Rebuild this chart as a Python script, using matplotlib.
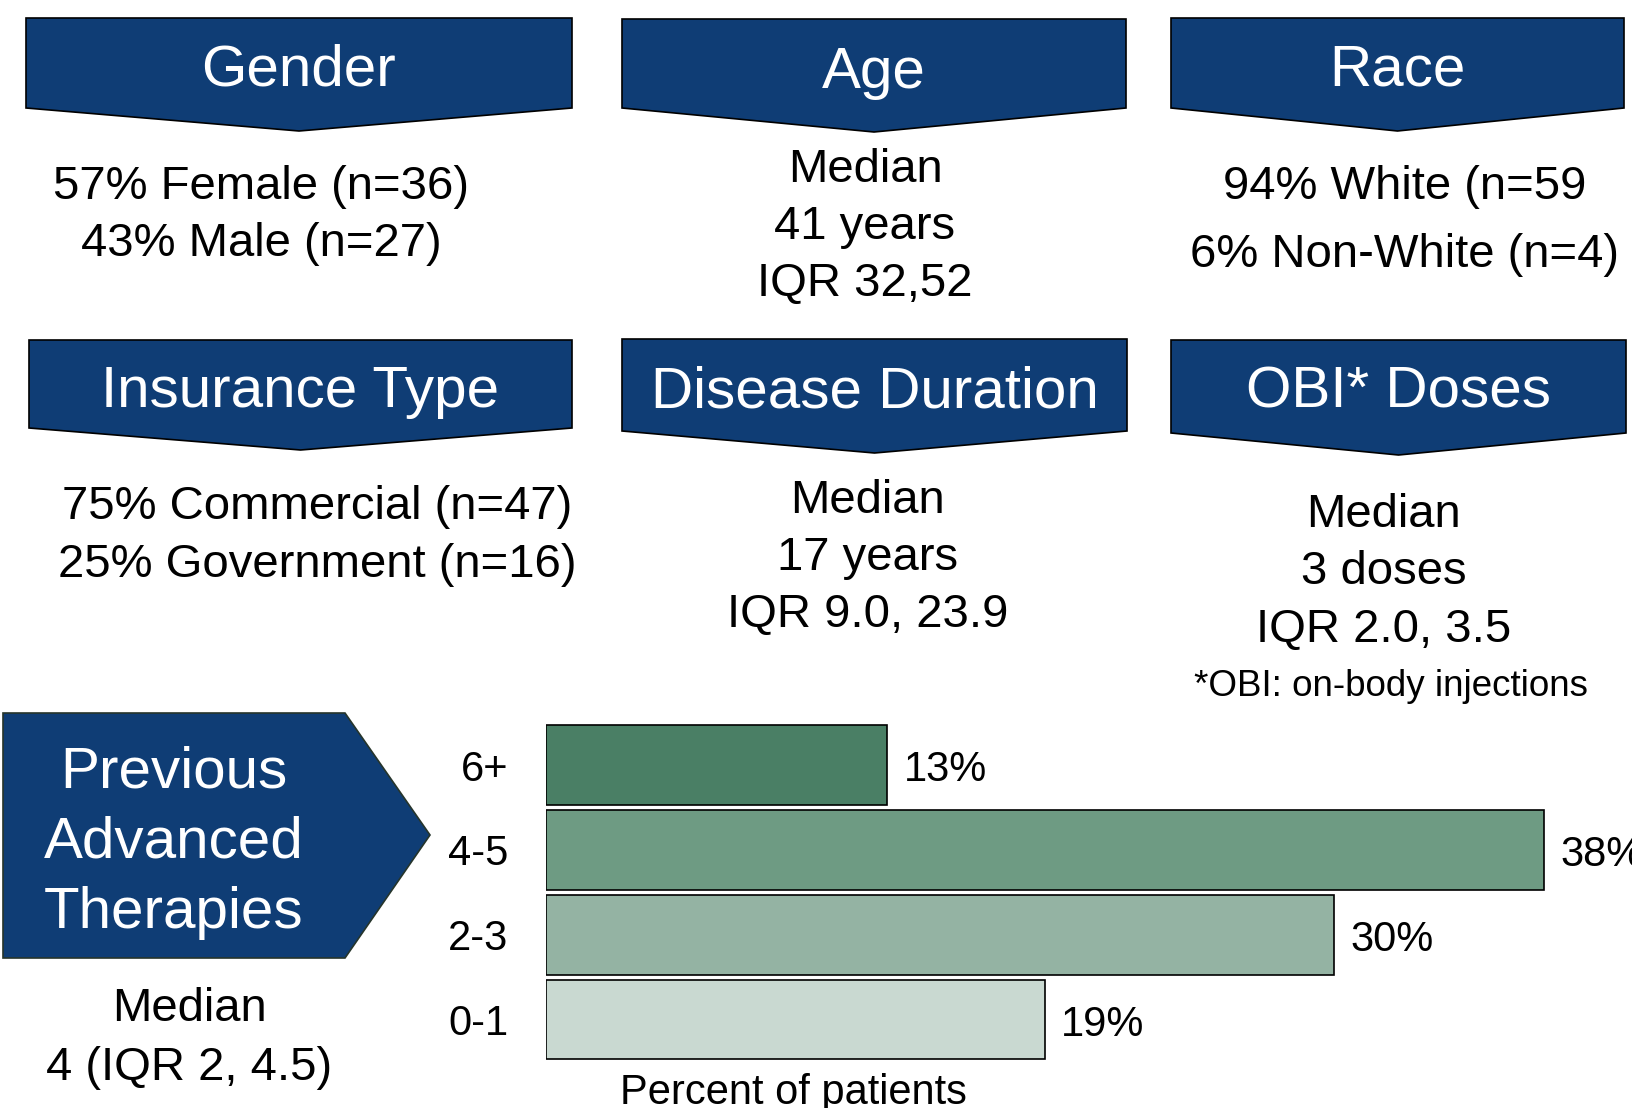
import matplotlib.pyplot as plt
from matplotlib.patches import Polygon

plt.rcParams['font.family'] = ['Liberation Sans', 'DejaVu Sans']

# --- data ---
therapy_groups = ["0-1", "2-3", "4-5", "6+"]
therapy_pct = [19, 30, 38, 13]
bar_colors = ["#c9d9d1", "#94b3a3", "#6e9b83", "#4a7f65"]

titles = ["Gender", "Age", "Race", "Insurance Type", "Disease Duration", "OBI* Doses"]
gender_lines = ["57% Female (n=36)", "43% Male (n=27)"]
age_lines = ["Median", "41 years", "IQR 32,52"]
race_lines = ["94% White (n=59", "6% Non-White (n=4)"]
insurance_lines = ["75% Commercial (n=47)", "25% Government (n=16)"]
duration_lines = ["Median", "17 years", "IQR 9.0, 23.9"]
obi_lines = ["Median", "3 doses", "IQR 2.0, 3.5"]
obi_note = "*OBI: on-body injections"
therapy_title = ["Previous", "Advanced", "Therapies"]
therapy_median = ["Median", "4 (IQR 2, 4.5)"]

NAVY = "#0f3d75"
W, H = 1632, 1108
DY = 4  # text nudge down

fig = plt.figure(figsize=(W / 100, H / 100), dpi=100)
bg = fig.add_axes([0, 0, 1, 1])
bg.set_xlim(0, W)
bg.set_ylim(H, 0)
bg.axis("off")

# banner shapes: x0, x1, top, rect bottom, tip, title y
banners = [
    (26, 572, 18, 108, 131, 66),
    (622, 1126, 19, 108, 132, 69),
    (1171, 1624, 18, 108, 131, 67),
    (29, 572, 340, 428, 450, 388),
    (622, 1127, 339, 431, 453, 388),
    (1171, 1626, 340, 433, 455, 389),
]
for title, (x0, x1, yt, yb, ytip, ty) in zip(titles, banners):
    xm = (x0 + x1) / 2
    bg.add_patch(Polygon([(x0, yt), (x1, yt), (x1, yb), (xm, ytip), (x0, yb)],
                         closed=True, fc=NAVY, ec="black", lw=1.2))
    bg.text(xm, ty + DY, title, color="white", fontsize=42, ha="center", va="center")

def block(lines, x, ys, size=34):
    for line, y in zip(lines, ys):
        bg.text(x, y + DY, line, fontsize=size, ha="center", va="center", color="black")

block(gender_lines, 261, [183, 240])
block(age_lines, 865, [166, 223, 280])
block(race_lines, 1405, [183, 251])
block(insurance_lines, 317, [503, 561])
block(duration_lines, 868, [497, 554, 611])
block(obi_lines, 1384, [511, 568, 626])
bg.text(1391, 683 + DY, obi_note, fontsize=26.5, ha="center", va="center")

# pentagon for previous therapies
bg.add_patch(Polygon([(3, 713), (345, 713), (430, 835), (345, 958), (3, 958)],
                     closed=True, fc=NAVY, ec="#26352b", lw=1.2))
for line, y in zip(therapy_title, [768, 838, 909]):
    bg.text(174, y + DY, line, color="white", fontsize=42, ha="center", va="center")
block(therapy_median, 189, [1005, 1064])
bg.text(793, 1089 + DY, "Percent of patients", fontsize=30, ha="center", va="center")

# bar chart
ax = fig.add_axes([546 / W, 46 / H, (W - 546) / W, 339.4 / H])
ax.set_facecolor("none")
ypos = range(len(therapy_groups))
ax.barh(ypos, therapy_pct, height=0.94, color=bar_colors, edgecolor="black", linewidth=1.2)
for y, v in zip(ypos, therapy_pct):
    ax.text(v + 0.62, y - 0.06, f"{v}%", fontsize=30, va="center", ha="left", clip_on=False)
ax.set_xlim(0, 41.35)
ax.set_ylim(-0.5, 3.5)
ax.set_yticks(list(ypos), therapy_groups)
ax.tick_params(axis="y", length=0, pad=27, labelsize=30)
ax.set_xticks([])
for s in ax.spines.values():
    s.set_visible(False)

fig.savefig("out.png", dpi=100)
